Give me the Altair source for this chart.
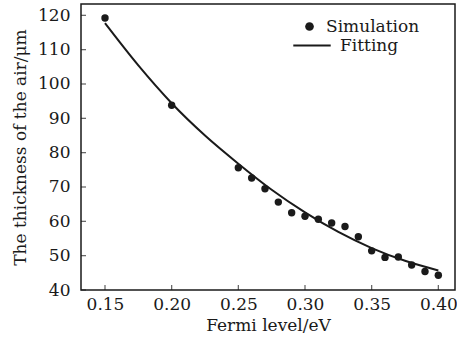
import altair as alt
import pandas as pd

sim_x = [0.15, 0.20, 0.25, 0.26, 0.27, 0.28, 0.29, 0.30, 0.31, 0.32, 0.33, 0.34, 0.35, 0.36, 0.37, 0.38, 0.39, 0.40]
sim_y = [119.2, 93.8, 75.6, 72.6, 69.5, 65.6, 62.5, 61.5, 60.6, 59.5, 58.5, 55.5, 51.4, 49.5, 49.6, 47.3, 45.4, 44.3]

fit_x = [0.15, 0.175, 0.20, 0.225, 0.25, 0.275, 0.30, 0.325, 0.35, 0.375, 0.40]
fit_y = [117.7, 105.4, 94.4, 85.0, 76.8, 69.2, 62.6, 56.9, 52.2, 48.5, 45.7]

x_ticks = [0.15, 0.20, 0.25, 0.30, 0.35, 0.40]
y_ticks = [40, 50, 60, 70, 80, 90, 100, 110, 120]

W, H = 374, 286
FONT = "DejaVu Serif"
INK = "#1a1a1a"
FS = 17

sim = pd.DataFrame({"x": sim_x, "y": sim_y, "s1": "Simulation"})
fit = pd.DataFrame({"x": fit_x, "y": fit_y, "s2": "Fitting"})
xt = pd.DataFrame({"t": x_ticks})
yt = pd.DataFrame({"t": y_ticks})

xs = alt.Scale(domain=[0.132, 0.4125], nice=False, zero=False)
ys = alt.Scale(domain=[40, 123.3], nice=False, zero=False)

xax = alt.Axis(values=x_ticks, format=".2f", ticks=False, grid=False, labelPadding=6,
               labelOverlap=False, title="Fermi level/eV", titlePadding=5, domain=False)
yax = alt.Axis(values=y_ticks, tickCount=9, ticks=False, grid=False, labelPadding=11,
               labelOverlap=False, title="The thickness of the air/μm", titlePadding=8, domain=False)

common_leg = dict(title=None, orient="none", padding=0, labelFont=FONT, labelFontSize=FS,
                  labelColor=INK, labelOffset=8)

line = alt.Chart(fit).mark_line(strokeWidth=2, interpolate="monotone").encode(
    x=alt.X("x:Q", scale=xs, axis=xax),
    y=alt.Y("y:Q", scale=ys, axis=yax),
    color=alt.Color("s2:N", scale=alt.Scale(domain=["Fitting"], range=[INK]),
                    legend=alt.Legend(legendX=211, legendY=21.5, symbolSize=1400,
                                      symbolType="stroke", symbolStrokeWidth=2.2,
                                      symbolStrokeColor=INK, **common_leg)),
)

pts = alt.Chart(sim).mark_point(filled=True, opacity=1, size=55).encode(
    x=alt.X("x:Q", scale=xs, axis=xax),
    y=alt.Y("y:Q", scale=ys, axis=yax),
    fill=alt.Fill("s1:N", scale=alt.Scale(domain=["Simulation"], range=[INK]),
                  legend=alt.Legend(legendX=211, legendY=14, symbolSize=75,
                                    symbolType="circle", symbolFillColor=INK,
                                    symbolStrokeWidth=0, symbolOffset=9, **common_leg)),
)

xtick = alt.Chart(xt).mark_tick(color=INK, thickness=1.2, size=5).encode(
    x=alt.X("t:Q", scale=xs, axis=xax), y=alt.value(H - 2.5)
)
ytick = alt.Chart(yt).mark_tick(color=INK, thickness=1.2, size=5).encode(
    y=alt.Y("t:Q", scale=ys, axis=yax), x=alt.value(2.5)
)

chart = alt.layer(line, pts, xtick, ytick).properties(
    width=W, height=H,
    autosize=alt.AutoSizeParams(type="none"),
    padding={"left": 81, "top": 4, "right": 2, "bottom": 57},
).resolve_legend(color="independent", fill="independent").configure_view(
    stroke=INK, strokeWidth=1.5
).configure_axis(
    labelFont=FONT, titleFont=FONT, labelFontSize=FS, titleFontSize=FS,
    labelColor=INK, titleColor=INK, titleFontWeight="normal",
)

chart.save("out.html", embed_options={"renderer": "svg", "actions": False})
